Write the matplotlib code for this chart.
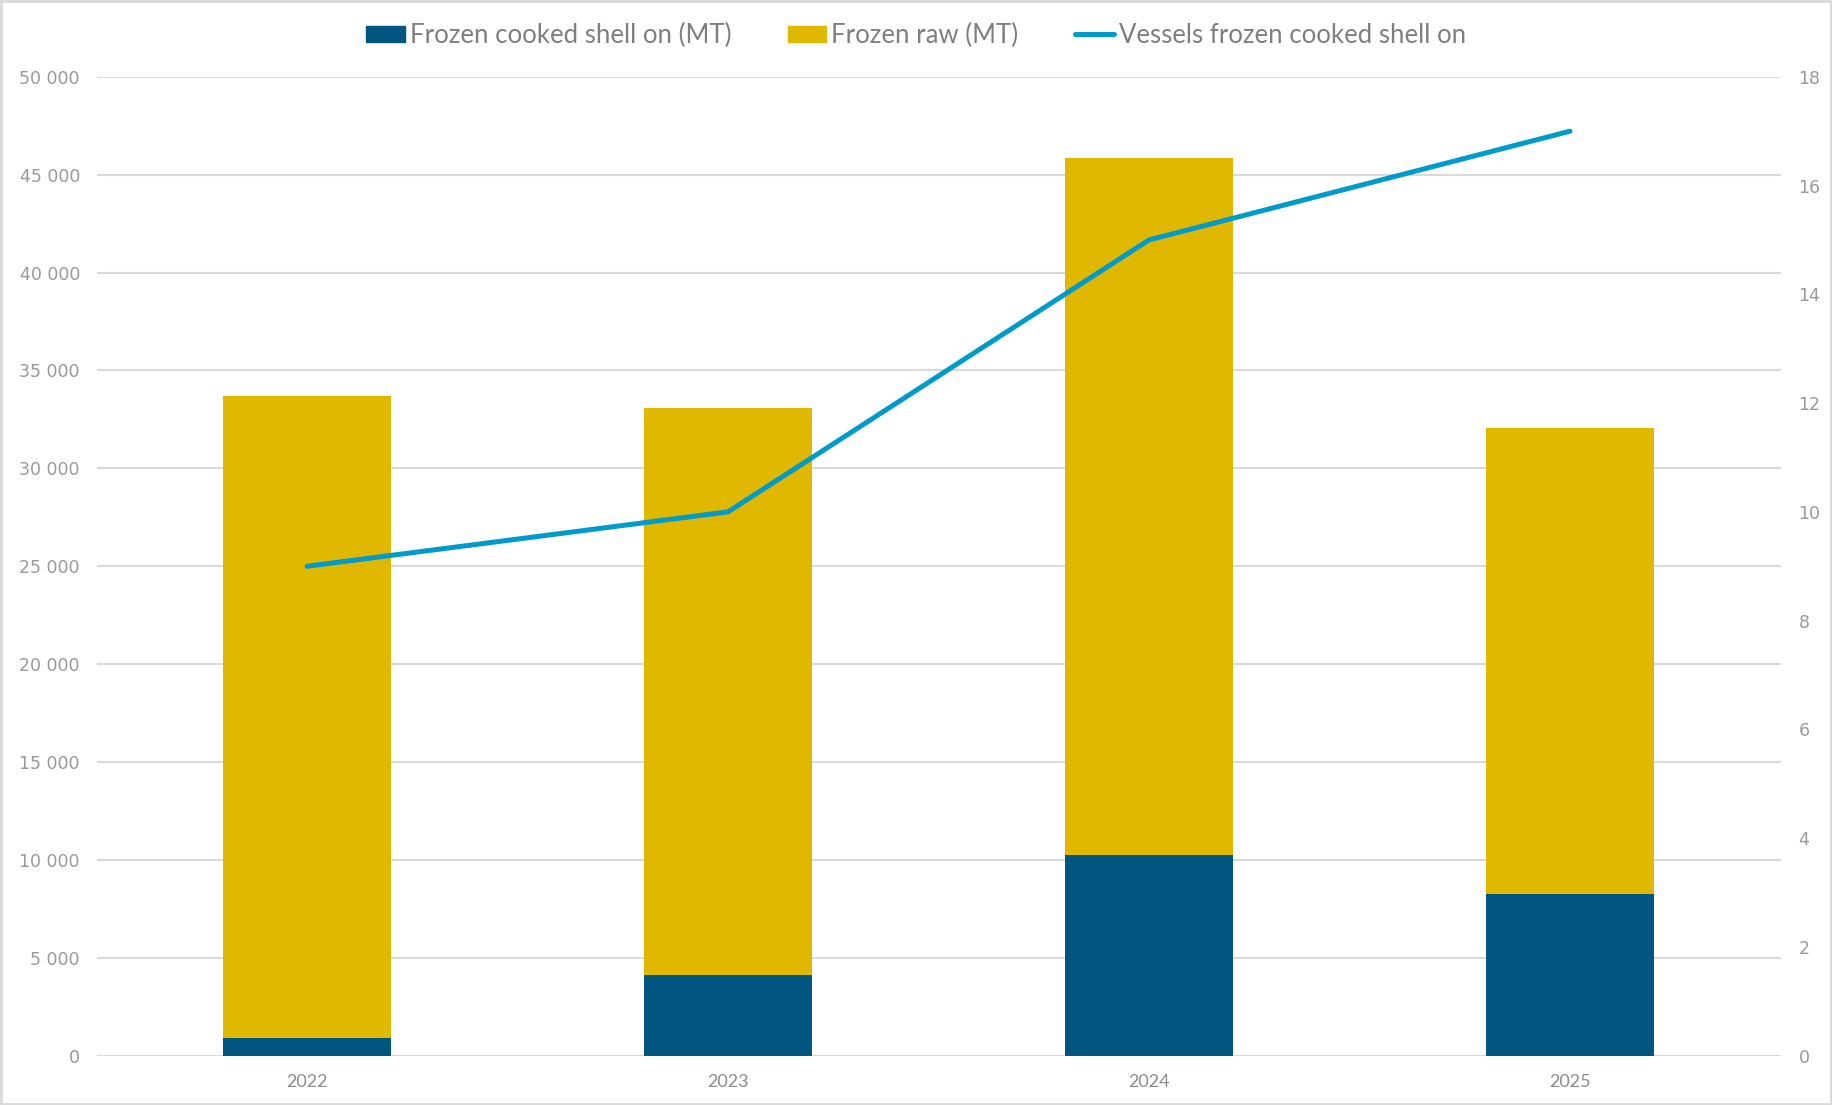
import matplotlib
matplotlib.use("Agg")
import matplotlib.pyplot as plt
from matplotlib.ticker import FuncFormatter, MultipleLocator
from matplotlib.patches import Rectangle
from matplotlib.lines import Line2D
import numpy as np

years = ["2022", "2023", "2024", "2025"]
frozen_cooked = [900, 4120, 10250, 8250]
frozen_raw_total = [33710, 33100, 45830, 32040]
frozen_raw = [t - c for t, c in zip(frozen_raw_total, frozen_cooked)]
vessels = [9, 10, 15, 17]

c_dark = "#00567F"
c_yellow = "#E0B800"
c_line = "#009BCB"
c_grid = "#D9D9D9"
c_text = "#8C8C8C"

plt.rcParams['font.family'] = ['Lato', 'DejaVu Sans']

fig = plt.figure(figsize=(18.32, 11.05), dpi=100)
ax = fig.add_axes([0.0527, 0.0446, 0.9192, 0.8859])
ax2 = ax.twinx()

x = np.arange(len(years))
ax.bar(x, frozen_cooked, width=0.4, color=c_dark, zorder=3, label="Frozen cooked shell on (MT)")
ax.bar(x, frozen_raw, width=0.4, bottom=frozen_cooked, color=c_yellow, zorder=3, label="Frozen raw (MT)")
ax2.plot(x, vessels, color=c_line, lw=3.6, solid_capstyle='round', zorder=4,
         label="Vessels frozen cooked shell on")

ax.set_xlim(-0.5, 3.5)
ax.set_ylim(0, 50000)
ax2.set_ylim(0, 18)
ax.yaxis.set_major_locator(MultipleLocator(5000))
ax2.yaxis.set_major_locator(MultipleLocator(2))
ax.yaxis.set_major_formatter(FuncFormatter(lambda v, p: f"{int(v):,}".replace(",", " ")))
ax.set_xticks(x)
ax.set_xticklabels(years)

ax.grid(axis='y', color=c_grid, lw=1.5, zorder=0)
ax.set_axisbelow(True)
for a in (ax, ax2):
    for s in a.spines.values():
        s.set_visible(False)
    a.tick_params(length=0, colors=c_text, labelsize=13)
for lab in ax.get_yticklabels() + ax2.get_yticklabels():
    lab.set_family('DejaVu Sans')
    lab.set_fontsize(12.5)
    lab.set_color("#999999")
ax.tick_params(axis='y', pad=12)
ax2.tick_params(axis='y', pad=13)
ax.tick_params(axis='x', pad=13)

handles = [Rectangle((0, 0), 1, 1, color=c_dark),
           Rectangle((0, 0), 1, 1, color=c_yellow),
           Line2D([0], [0], color=c_line, lw=3.6, solid_capstyle='round')]
labels = ["Frozen cooked shell on (MT)", "Frozen raw (MT)", "Vessels frozen cooked shell on"]
leg = fig.legend(handles, labels, loc='center', bbox_to_anchor=(0.5, 0.968), ncol=3,
                 frameon=False, fontsize=18.5, handlelength=1.5, handleheight=0.55,
                 handletextpad=0.2, columnspacing=2.2, labelcolor="#7F7F7F")

fig.patches.append(Rectangle((0.0008, 0.0012), 0.9984, 0.9976, transform=fig.transFigure,
                             fill=False, edgecolor="#D9D9D9", lw=2))

fig.savefig("out.png", dpi=100)
